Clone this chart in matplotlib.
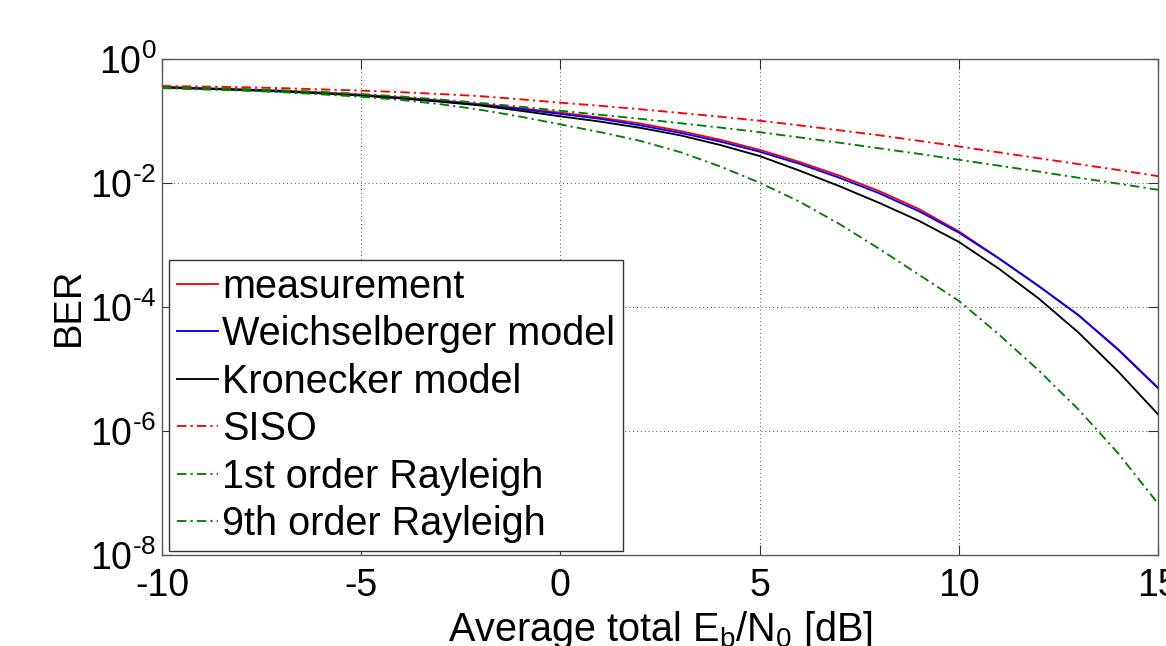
import numpy as np
import matplotlib
matplotlib.use("Agg")
import matplotlib.pyplot as plt

plt.rcParams['font.family'] = ['Liberation Sans', 'DejaVu Sans']
plt.rcParams['mathtext.fontset'] = 'custom'
plt.rcParams['mathtext.rm'] = 'Liberation Sans'
plt.rcParams['mathtext.it'] = 'Liberation Sans'
plt.rcParams['mathtext.default'] = 'regular'

# ---- data (log10 BER) ----
snr_db = [-10, -9, -8, -7, -6, -5, -4, -3, -2, -1, 0, 1, 2, 3, 4, 5,
          6, 7, 8, 9, 10, 11, 12, 13, 14, 15]

log_measurement = [-0.45, -0.47, -0.49, -0.51, -0.54, -0.575, -0.62, -0.67, -0.73, -0.795,
                   -0.865, -0.945, -1.04, -1.16, -1.30, -1.465, -1.66, -1.88, -2.13, -2.42,
                   -2.78, -3.21, -3.66, -4.13, -4.68, -5.30]
log_weichselberger = [-0.455, -0.475, -0.495, -0.52, -0.55, -0.585, -0.63, -0.68, -0.74, -0.81,
                      -0.885, -0.965, -1.07, -1.19, -1.33, -1.495, -1.69, -1.915, -2.165, -2.455,
                      -2.80, -3.215, -3.66, -4.13, -4.69, -5.31]
log_kronecker = [-0.46, -0.48, -0.50, -0.525, -0.555, -0.59, -0.635, -0.69, -0.75, -0.835,
                 -0.925, -1.01, -1.11, -1.23, -1.385, -1.565, -1.80, -2.05, -2.32, -2.61,
                 -2.95, -3.38, -3.86, -4.41, -5.04, -5.73]
log_siso = [-0.435, -0.445, -0.455, -0.47, -0.49, -0.51, -0.535, -0.565, -0.60, -0.65,
            -0.705, -0.755, -0.81, -0.87, -0.93, -0.995, -1.07, -1.15, -1.23, -1.32,
            -1.41, -1.505, -1.60, -1.695, -1.79, -1.89]
log_rayleigh1 = [-0.455, -0.47, -0.485, -0.505, -0.53, -0.565, -0.605, -0.655, -0.71, -0.77,
                 -0.835, -0.90, -0.965, -1.035, -1.105, -1.18, -1.265, -1.35, -1.44, -1.53,
                 -1.625, -1.72, -1.815, -1.915, -2.01, -2.11]
log_rayleigh9 = [-0.47, -0.49, -0.51, -0.535, -0.57, -0.61, -0.66, -0.73, -0.82, -0.93,
                 -1.055, -1.18, -1.32, -1.50, -1.73, -1.995, -2.30, -2.66, -3.06, -3.48,
                 -3.90, -4.44, -5.02, -5.65, -6.36, -7.17]

labels = ['measurement', 'Weichselberger model', 'Kronecker model', 'SISO',
          '1st order Rayleigh', '9th order Rayleigh']
colors = ['#ff0000', '#0000ff', '#000000', '#ff0000', '#008000', '#008000']

x_ticks = [-10, -5, 0, 5, 10, 15]
x_tick_labels = ['-10', '-5', '0', '5', '10', '15']
y_tick_exps = [0, -2, -4, -6, -8]

# ---- figure ----
fig = plt.figure(figsize=(11.66, 6.46), dpi=100)
ax = fig.add_axes([162/1166, 1 - 555/646, 996/1166, 496/646])

dashdot = (0, (5, 2.2, 1.2, 2.2))
series = [log_measurement, log_weichselberger, log_kronecker,
          log_siso, log_rayleigh1, log_rayleigh9]
styles = ['-', '-', '-', dashdot, dashdot, dashdot]
x = np.array(snr_db, dtype=float)
for s, lab, c, ls in zip(series, labels, colors, styles):
    ax.semilogy(x, 10.0 ** np.array(s), color=c, linestyle=ls, lw=1.35, label=lab)

ax.set_xlim(-10, 15)
ax.set_ylim(1e-8, 1)
ax.set_xticks(x_ticks)
ax.set_xticklabels(x_tick_labels)
ax.set_yticks([10.0 ** e for e in y_tick_exps])
ax.set_yticklabels([r'$10^{%s}$' % (str(e).replace('-', '\u2010')) for e in y_tick_exps])
ax.yaxis.set_minor_locator(matplotlib.ticker.NullLocator())

ax.tick_params(axis='both', which='major', direction='in', length=7, width=0.8,
               top=True, right=True, labelsize=27, colors='0.2', labelcolor='black')
ax.tick_params(axis='x', pad=9)
ax.tick_params(axis='y', pad=4)
for sp in ax.spines.values():
    sp.set_color('0.35')
    sp.set_linewidth(1.0)

ax.grid(True, which='major', linestyle=(0, (1, 3)), color='0.3', linewidth=0.7)

ax.set_xlabel(r'Average total E$_\mathregular{b}$/N$_\mathregular{0}$ [dB]', fontsize=28.5, labelpad=4)
ax.set_ylabel('BER', fontsize=27.5, labelpad=2)

leg = ax.legend(loc='lower left', bbox_to_anchor=(0.007, 0.008), borderaxespad=0,
                fontsize=28.5, handlelength=1.05, handletextpad=0.1, labelspacing=0.24,
                borderpad=0.2, fancybox=False, framealpha=1, edgecolor='0.2')
leg.get_frame().set_linewidth(1.0)

fig.savefig('out.png', dpi=100)
